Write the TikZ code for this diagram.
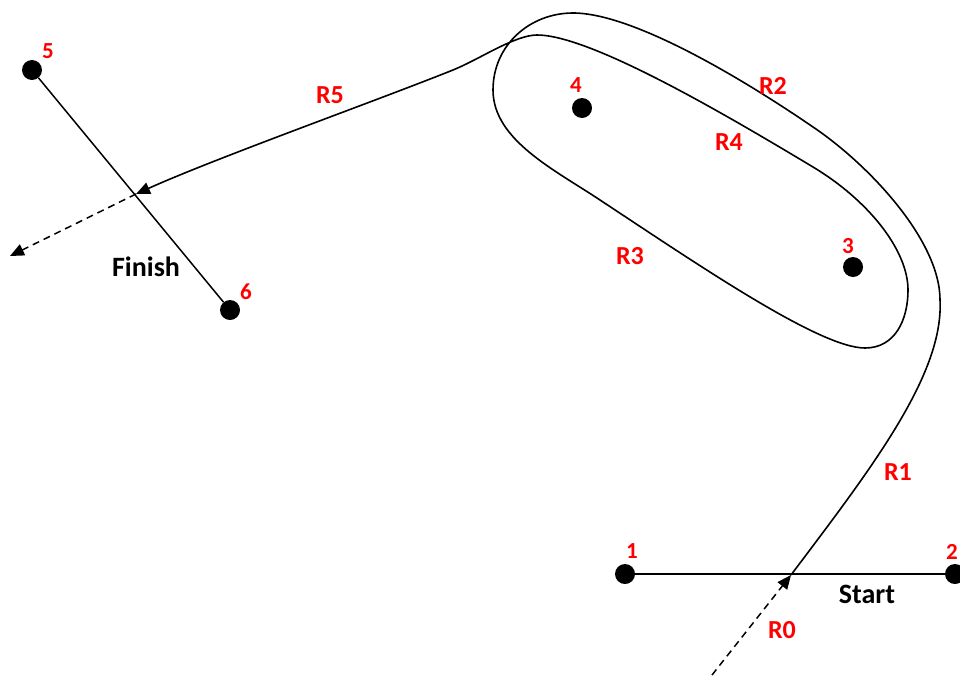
\documentclass[tikz,border=0pt]{standalone}
\usepackage{fontspec}
\setmainfont{Carlito}
\usetikzlibrary{arrows.meta,calc}
\definecolor{lblred}{RGB}{255,0,0}

\begin{document}
\begin{tikzpicture}[x=1pt,y=-1pt,
  dot/.style={circle,fill=black,inner sep=0pt,minimum size=20pt},
  num/.style={text=lblred,font=\bfseries\fontsize{23}{27}\selectfont,inner sep=0pt},
  rlab/.style={text=lblred,font=\bfseries\fontsize{26}{30}\selectfont,inner sep=0pt},
  txt/.style={font=\bfseries\fontsize{28}{32}\selectfont,inner sep=0pt},
  route/.style={line width=1.6pt,-{Triangle[length=14pt,width=12pt]}},
  gate/.style={line width=1.5pt},
  outside/.style={line width=1.5pt,dash pattern=on 7pt off 5pt,-{Triangle[length=14pt,width=12pt]}}]
\useasboundingbox (0,0) rectangle (960,675);

% gates
\node[dot] (p1) at (625,574) {};
\node[dot] (p2) at (955,574) {};
\node[dot] (p5) at (32,70) {};
\node[dot] (p6) at (230,310) {};
\node[dot] (p3) at (853,267) {};
\node[dot] (p4) at (582,108) {};

\draw[gate] (p1) -- (p2);
\draw[gate] (p5) -- (p6);

\node[num] (n1) at (632,551) {1};
\node[num] (n2) at (952,552) {2};
\node[num] (n3) at (848,246) {3};
\node[num] (n4) at (576,85) {4};
\node[num] (n5) at (48,51) {5};
\node[num] (n6) at (246,292) {6};

\coordinate (S) at (791,575);
\coordinate (F) at (136,194);
\coordinate (in) at (712,675);
\coordinate (out) at (10,256);

% run in and out
\draw[outside] (in) -- (S);
\draw[outside] (F) -- (out);

% the route: R1, R2, loop, R3, R4, R5
\draw[route] (S) .. controls (870,470) and (944,375) .. (940,300)
  .. controls (940,240) and (868,164) .. (813,127)
  .. controls (743,79) and (633,13) .. (573,13)
  .. controls (530,13) and (493,45) .. (493,90)
  .. controls (493,140) and (555,170) .. (600,200)
  .. controls (700,266) and (820,348) .. (865,348)
  .. controls (895,348) and (908,320) .. (908,290)
  .. controls (908,250) and (868,200) .. (813,167)
  .. controls (723,113) and (590,35) .. (537,35)
  .. controls (515,35) and (480,59) .. (453,70)
  .. controls (373,102) and (216,158) .. (F);

\node[rlab] (R0) at (782,630) {R0};
\node[rlab] (R1) at (898,472) {R1};
\node[rlab] (R2) at (773,86) {R2};
\node[rlab] (R3) at (630,256) {R3};
\node[rlab] (R4) at (729,142) {R4};
\node[rlab] (R5) at (330,95) {R5};

\node[txt] (start) at (867,594) {Start};
\node[txt] (finish) at (146,267) {Finish};
\end{tikzpicture}
\end{document}
